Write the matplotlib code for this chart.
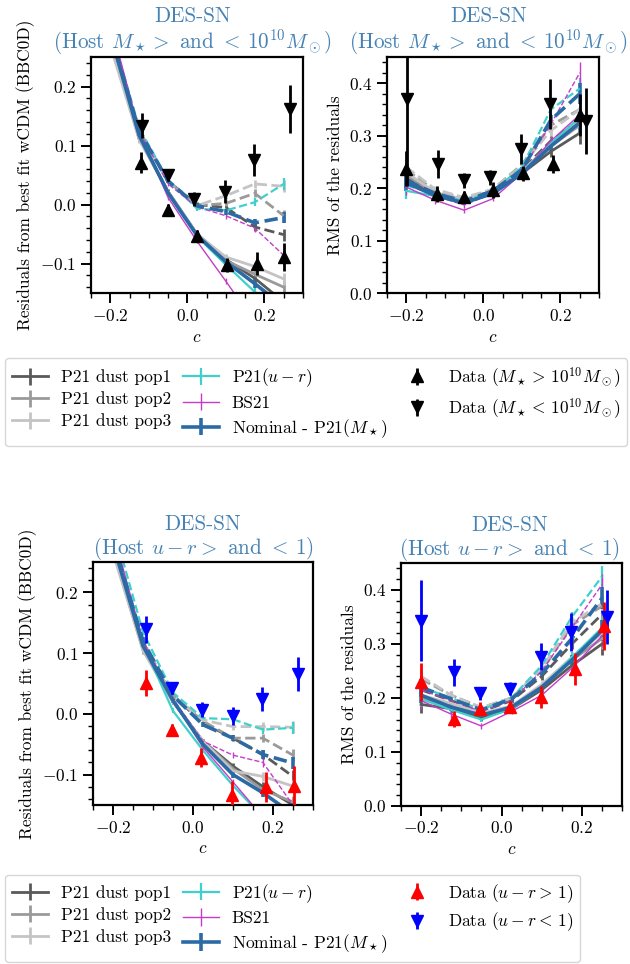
import matplotlib
matplotlib.use("Agg")
import matplotlib.pyplot as plt
from matplotlib.ticker import MultipleLocator

plt.rcParams.update({
    "font.family": "serif",
    "font.serif": ["cmr10"],
    "mathtext.fontset": "cm",
    "axes.formatter.use_mathtext": True,
    "axes.unicode_minus": True,
    "font.size": 12.5,
})

# ---------------- data ----------------
cbins = [-0.2, -0.125, -0.05, 0.025, 0.1, 0.175, 0.25]
models = ["P21 dust pop1", "P21 dust pop2", "P21 dust pop3", r"P21$(u-r)$", "BS21", r"Nominal - P21$(M_\star)$"]
model_colors = ["#5a5a5a", "#9a9a9a", "#c4c4c4", "#3fd0cc", "#c43cc8", "#2c6aa6"]
model_lw = [2.0, 2.0, 2.0, 1.6, 1.0, 2.6]

model_res_err = [0.01, 0.006, 0.004, 0.004, 0.005, 0.007, 0.01]
model_rms_err = [0.015, 0.007, 0.005, 0.005, 0.006, 0.01, 0.02]

# Host-mass split: residuals (solid = high mass, dashed = low mass)
res_mass_hi = {
    "P21 dust pop1": [0.28, 0.112, 0.022, -0.050, -0.093, -0.125, -0.165],
    "P21 dust pop2": [0.28, 0.112, 0.022, -0.050, -0.095, -0.118, -0.140],
    "P21 dust pop3": [0.27, 0.110, 0.022, -0.050, -0.089, -0.105, -0.126],
    r"P21$(u-r)$":   [0.30, 0.120, 0.018, -0.054, -0.102, -0.148, -0.190],
    "BS21":          [0.31, 0.125, 0.012, -0.062, -0.130, -0.200, -0.260],
    r"Nominal - P21$(M_\star)$": [0.29, 0.117, 0.020, -0.052, -0.097, -0.134, -0.173],
}
res_mass_lo = {
    "P21 dust pop1": [0.28, 0.125, 0.040, 0.000, -0.005, -0.038, -0.051],
    "P21 dust pop2": [0.28, 0.125, 0.040, -0.002, 0.002, 0.019, -0.019],
    "P21 dust pop3": [0.27, 0.120, 0.040, -0.002, 0.015, 0.035, 0.031],
    r"P21$(u-r)$":   [0.30, 0.130, 0.042, -0.007, -0.010, 0.004, 0.035],
    "BS21":          [0.30, 0.125, 0.035, -0.004, -0.019, -0.040, -0.086],
    r"Nominal - P21$(M_\star)$": [0.29, 0.125, 0.040, -0.002, -0.012, -0.031, -0.022],
}
rms_mass_hi = {
    "P21 dust pop1": [0.215, 0.185, 0.175, 0.190, 0.228, 0.270, 0.305],
    "P21 dust pop2": [0.225, 0.190, 0.178, 0.192, 0.230, 0.280, 0.320],
    "P21 dust pop3": [0.230, 0.192, 0.178, 0.192, 0.232, 0.285, 0.330],
    r"P21$(u-r)$":   [0.195, 0.185, 0.172, 0.190, 0.230, 0.285, 0.335],
    "BS21":          [0.202, 0.177, 0.158, 0.180, 0.228, 0.290, 0.340],
    r"Nominal - P21$(M_\star)$": [0.210, 0.186, 0.172, 0.190, 0.228, 0.280, 0.325],
}
rms_mass_lo = {
    "P21 dust pop1": [0.220, 0.190, 0.178, 0.195, 0.235, 0.290, 0.330],
    "P21 dust pop2": [0.235, 0.195, 0.180, 0.198, 0.245, 0.320, 0.350],
    "P21 dust pop3": [0.240, 0.198, 0.182, 0.198, 0.243, 0.310, 0.350],
    r"P21$(u-r)$":   [0.205, 0.190, 0.175, 0.195, 0.240, 0.350, 0.390],
    "BS21":          [0.210, 0.185, 0.168, 0.190, 0.235, 0.322, 0.420],
    r"Nominal - P21$(M_\star)$": [0.215, 0.190, 0.175, 0.195, 0.235, 0.330, 0.380],
}

# Host u-r split: residuals (solid = red u-r>1, dashed = blue u-r<1)
res_ur_red = {
    "P21 dust pop1": [0.27, 0.108, 0.020, -0.045, -0.086, -0.120, -0.150],
    "P21 dust pop2": [0.27, 0.105, 0.020, -0.045, -0.090, -0.125, -0.145],
    "P21 dust pop3": [0.265, 0.105, 0.020, -0.045, -0.094, -0.103, -0.119],
    r"P21$(u-r)$":   [0.29, 0.115, 0.005, -0.060, -0.118, -0.170, -0.230],
    "BS21":          [0.30, 0.120, 0.022, -0.055, -0.112, -0.170, -0.230],
    r"Nominal - P21$(M_\star)$": [0.28, 0.112, 0.022, -0.050, -0.100, -0.130, -0.165],
}
res_ur_blue = {
    "P21 dust pop1": [0.28, 0.118, 0.030, -0.015, -0.040, -0.067, -0.103],
    "P21 dust pop2": [0.28, 0.118, 0.030, -0.012, -0.040, -0.040, -0.068],
    "P21 dust pop3": [0.27, 0.115, 0.030, -0.010, -0.021, -0.021, -0.022],
    r"P21$(u-r)$":   [0.31, 0.135, 0.035, -0.007, -0.009, -0.026, -0.023],
    "BS21":          [0.29, 0.120, 0.025, -0.045, -0.068, -0.080, -0.150],
    r"Nominal - P21$(M_\star)$": [0.285, 0.120, 0.030, -0.018, -0.040, -0.067, -0.081],
}
rms_ur_red = {
    "P21 dust pop1": [0.188, 0.180, 0.163, 0.180, 0.215, 0.260, 0.300],
    "P21 dust pop2": [0.200, 0.185, 0.168, 0.183, 0.220, 0.270, 0.310],
    "P21 dust pop3": [0.205, 0.190, 0.172, 0.185, 0.225, 0.275, 0.320],
    r"P21$(u-r)$":   [0.198, 0.178, 0.160, 0.180, 0.220, 0.275, 0.330],
    "BS21":          [0.195, 0.170, 0.148, 0.175, 0.205, 0.255, 0.315],
    r"Nominal - P21$(M_\star)$": [0.205, 0.183, 0.168, 0.183, 0.220, 0.270, 0.325],
}
rms_ur_blue = {
    "P21 dust pop1": [0.215, 0.195, 0.175, 0.195, 0.240, 0.300, 0.355],
    "P21 dust pop2": [0.235, 0.205, 0.182, 0.200, 0.250, 0.335, 0.370],
    "P21 dust pop3": [0.240, 0.205, 0.182, 0.200, 0.255, 0.340, 0.375],
    r"P21$(u-r)$":   [0.220, 0.200, 0.178, 0.200, 0.260, 0.350, 0.425],
    "BS21":          [0.215, 0.195, 0.175, 0.195, 0.250, 0.330, 0.410],
    r"Nominal - P21$(M_\star)$": [0.220, 0.198, 0.178, 0.198, 0.245, 0.310, 0.385],
}

# Observed data
c_mass_hi = [-0.201, -0.120, -0.050, 0.025, 0.102, 0.181, 0.251]
c_mass_lo = [-0.199, -0.117, -0.049, 0.016, 0.097, 0.172, 0.267]
res_data_mass_hi = [0.30, 0.071, -0.009, -0.053, -0.102, -0.100, -0.089]
res_data_mass_hi_err = [0.03, 0.018, 0.010, 0.010, 0.012, 0.020, 0.023]
res_data_mass_lo = [0.33, 0.134, 0.050, 0.010, 0.022, 0.075, 0.162]
res_data_mass_lo_err = [0.05, 0.022, 0.010, 0.012, 0.020, 0.027, 0.040]
rms_data_mass_hi = [0.237, 0.189, 0.183, 0.197, 0.228, 0.246, 0.340]
rms_data_mass_hi_err = [0.033, 0.015, 0.012, 0.015, 0.015, 0.017, 0.040]
rms_data_mass_lo = [0.370, 0.246, 0.215, 0.221, 0.275, 0.360, 0.328]
rms_data_mass_lo_err = [0.165, 0.027, 0.014, 0.014, 0.028, 0.048, 0.063]

c_ur_red = [-0.200, -0.118, -0.053, 0.021, 0.097, 0.184, 0.254]
c_ur_blue = [-0.200, -0.118, -0.053, 0.022, 0.099, 0.174, 0.262]
res_data_red = [0.30, 0.051, -0.027, -0.072, -0.133, -0.120, -0.119]
res_data_red_err = [0.03, 0.022, 0.010, 0.015, 0.022, 0.025, 0.033]
res_data_blue = [0.33, 0.139, 0.043, 0.007, -0.004, 0.024, 0.065]
res_data_blue_err = [0.05, 0.022, 0.010, 0.012, 0.015, 0.020, 0.028]
rms_data_red = [0.229, 0.161, 0.180, 0.183, 0.202, 0.254, 0.333]
rms_data_red_err = [0.035, 0.015, 0.012, 0.010, 0.020, 0.030, 0.045]
rms_data_blue = [0.343, 0.248, 0.209, 0.217, 0.276, 0.322, 0.350]
rms_data_blue_err = [0.075, 0.025, 0.012, 0.012, 0.025, 0.035, 0.050]

title_color = "#4682b4"

fig = plt.figure(figsize=(6.3, 9.64), dpi=100)

ax_tl = fig.add_axes([0.1444, 0.696, 0.3365, 0.2448])
ax_tr = fig.add_axes([0.6143, 0.696, 0.3365, 0.2448])
ax_bl = fig.add_axes([0.1476, 0.165, 0.349, 0.252])
ax_br = fig.add_axes([0.6365, 0.164, 0.351, 0.252])


def draw_models(ax, solid, dashed, err):
    handles = []
    for name, col, lw in zip(models, model_colors, model_lw):
        h = ax.errorbar(cbins, solid[name], yerr=err, color=col, lw=lw,
                        elinewidth=lw, ls="-", zorder=2)
        ax.errorbar(cbins, dashed[name], yerr=err, color=col, lw=lw,
                    elinewidth=lw, ls="--", zorder=2)
        handles.append(h)
    return handles


def style(ax, ylim, ylabel, title, tx):
    ax.set_xlim(-0.25, 0.30)
    ax.set_ylim(*ylim)
    ax.xaxis.set_major_locator(MultipleLocator(0.2))
    ax.xaxis.set_minor_locator(MultipleLocator(0.05))
    ax.yaxis.set_major_locator(MultipleLocator(0.1))
    ax.yaxis.set_minor_locator(MultipleLocator(0.02))
    ax.tick_params(which="major", direction="out", length=7, width=1.4, labelsize=12.5)
    ax.tick_params(which="minor", direction="out", length=3.5, width=1.0)
    for s in ax.spines.values():
        s.set_linewidth(1.6)
    ax.set_xlabel(r"$c$", fontsize=12.5)
    ax.set_ylabel(ylabel, fontsize=12.5)
    ax.set_title(title, color=title_color, fontsize=15.2, linespacing=1.05,
                 pad=4, x=tx)


def draw_data(ax, x1, y1, e1, c1, x2, y2, e2, c2):
    h1 = ax.errorbar(x1, y1, yerr=e1, fmt="^", color=c1, ms=8.5, elinewidth=2,
                     capsize=0, zorder=5)
    h2 = ax.errorbar(x2, y2, yerr=e2, fmt="v", color=c2, ms=8.5, elinewidth=2,
                     capsize=0, zorder=5)
    return [h1, h2]


mass_title = "DES-SN\n" + r"(Host $M_\star >$ and $<\,10^{10}M_\odot$)"
ur_title = "DES-SN\n" + r"(Host $u-r >$ and $<\,1$)"
res_label = "Residuals from best fit wCDM (BBC0D)"
rms_label = "RMS of the residuals"

# Top-left
mh = draw_models(ax_tl, res_mass_hi, res_mass_lo, model_res_err)
dh = draw_data(ax_tl, c_mass_hi, res_data_mass_hi, res_data_mass_hi_err, "black",
               c_mass_lo, res_data_mass_lo, res_data_mass_lo_err, "black")
style(ax_tl, (-0.15, 0.25), res_label, mass_title, 0.48)

# Top-right
draw_models(ax_tr, rms_mass_hi, rms_mass_lo, model_rms_err)
draw_data(ax_tr, c_mass_hi, rms_data_mass_hi, rms_data_mass_hi_err, "black",
          c_mass_lo, rms_data_mass_lo, rms_data_mass_lo_err, "black")
style(ax_tr, (0.0, 0.45), rms_label, mass_title, 0.48)

# Bottom-left
mh2 = draw_models(ax_bl, res_ur_red, res_ur_blue, model_res_err)
dh2 = draw_data(ax_bl, c_ur_red, res_data_red, res_data_red_err, "red",
                c_ur_blue, res_data_blue, res_data_blue_err, "blue")
style(ax_bl, (-0.15, 0.25), res_label, ur_title, 0.5)

# Bottom-right
draw_models(ax_br, rms_ur_red, rms_ur_blue, model_rms_err)
draw_data(ax_br, c_ur_red, rms_data_red, rms_data_red_err, "red",
          c_ur_blue, rms_data_blue, rms_data_blue_err, "blue")
style(ax_br, (0.0, 0.45), rms_label, ur_title, 0.49)

leg_kw = dict(loc="upper left", ncol=3, columnspacing=0.7, fontsize=12.5,
              handlelength=2.1, handletextpad=0.7, labelspacing=0.35,
              numpoints=1, borderaxespad=0, borderpad=0.4)
fig.legend(mh + dh, models + [r"Data $(M_\star >\,10^{10}M_\odot)$",
                              r"Data $(M_\star <\,10^{10}M_\odot)$"],
           bbox_to_anchor=(0.008, 0.6286), **leg_kw)
fig.legend(mh2 + dh2, models + [r"Data $(u-r >\,1)$", r"Data $(u-r <\,1)$"],
           bbox_to_anchor=(0.008, 0.0923), **leg_kw)

fig.savefig("out.png", dpi=100)
